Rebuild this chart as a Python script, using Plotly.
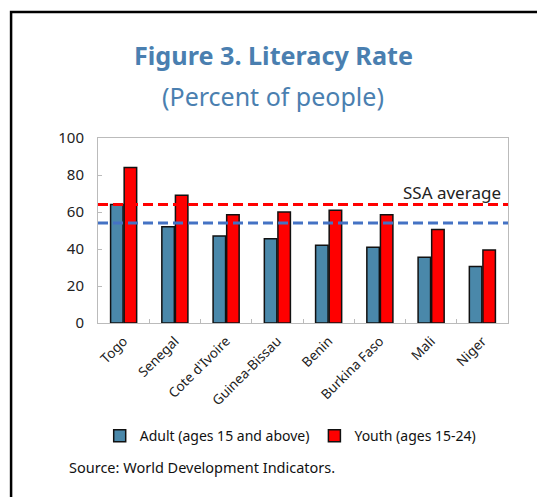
import plotly.graph_objects as go

countries = ["Togo", "Senegal", "Cote d'Ivoire", "Guinea-Bissau", "Benin",
             "Burkina Faso", "Mali", "Niger"]
adult = [64, 52, 47, 45.5, 42, 41, 35.5, 30.5]
youth = [84, 69, 58.5, 60, 61, 58.5, 50.5, 39.5]
ssa_adult = 54
ssa_youth = 64

blue = "#4a88aa"
red = "#ff0000"
title_color = "#4a7fb0"
font = "Noto Sans"

fig = go.Figure(data=[
    go.Bar(name="Adult (ages 15 and above)", x=countries, y=adult,
           marker=dict(color=blue, line=dict(color="#111", width=1.5))),
    go.Bar(name="Youth (ages 15-24)", x=countries, y=youth,
           marker=dict(color=red, line=dict(color="#111", width=1.5))),
])

# SSA average lines
fig.add_shape(type="line", xref="paper", yref="y", x0=0, x1=1, y0=ssa_youth, y1=ssa_youth,
              line=dict(color=red, width=3, dash="10px,5px"))
fig.add_shape(type="line", xref="paper", yref="y", x0=0, x1=1, y0=ssa_adult, y1=ssa_adult,
              line=dict(color="#4472c4", width=3, dash="10px,5px"))

# outer frame
fig.add_shape(type="rect", xref="paper", yref="paper", x0=-0.212, x1=1.2, y0=-1.1, y1=1.681,
              line=dict(color="black", width=2.5), layer="below")

fig.add_annotation(text="<b>Figure 3. Literacy Rate</b>", xref="paper", yref="paper",
                   x=0.427, y=1.449, yanchor="middle", showarrow=False,
                   font=dict(family=font, size=25.2, color=title_color))
fig.add_annotation(text="(Percent of people)", xref="paper", yref="paper",
                   x=0.427, y=1.227, yanchor="middle", showarrow=False,
                   font=dict(family=font, size=25, color=title_color))
fig.add_annotation(text="SSA average", xref="paper", yref="paper",
                   x=0.988, y=0.708, xanchor="right", yanchor="middle", showarrow=False,
                   font=dict(family=font, size=17, color="#222"))
fig.add_annotation(text="Source: World Development Indicators.", xref="paper", yref="paper",
                   x=-0.076, y=-0.778, xanchor="left", yanchor="middle", showarrow=False,
                   font=dict(family=font, size=14.5, color="#111"))

fig.update_layout(
    width=545, height=497,
    margin=dict(l=90, r=45, t=130, b=182),
    paper_bgcolor="white", plot_bgcolor="white",
    barmode="group", bargap=0.47, bargroupgap=0.08,
    font=dict(family=font, size=13, color="#222"),
    showlegend=True,
    legend=dict(orientation="h", x=0.47, xanchor="center", y=-0.611, yanchor="middle",
                font=dict(size=14, color="#111"), itemwidth=30),
    xaxis=dict(showline=True, linecolor="#bbb", mirror=True, ticks="inside",
               tickson="boundaries", ticklen=4, tickcolor="#bbb", tickangle=-45,
               tickfont=dict(size=13.5, color="#222"), showgrid=False,
               ticklabelstandoff=4),
    yaxis=dict(range=[0, 100], dtick=20, showline=True, linecolor="#bbb", mirror=True,
               ticks="inside", ticklen=4, tickcolor="#bbb", showgrid=False, zeroline=False,
               tickfont=dict(size=15, color="#222"), ticklabelstandoff=10),
)

fig.write_html("out.html")
